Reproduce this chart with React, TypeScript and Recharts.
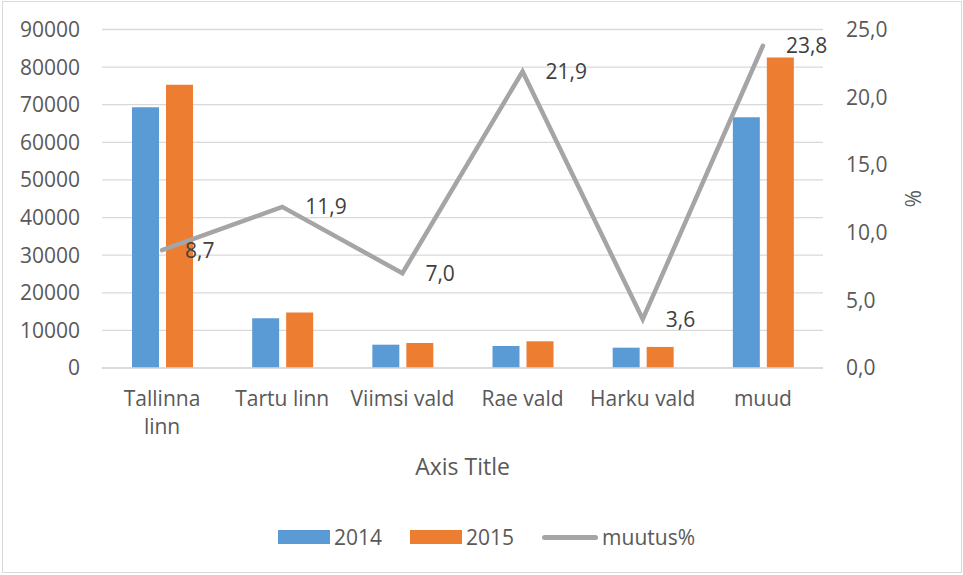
import React from "react";
import {
  ComposedChart,
  Bar,
  Line,
  XAxis,
  YAxis,
  CartesianGrid,
  Legend,
  LabelList,
} from "recharts";

const categories = ["Tallinna linn", "Tartu linn", "Viimsi vald", "Rae vald", "Harku vald", "muud"];
const values2014 = [69350, 13200, 6200, 5850, 5400, 66700];
const values2015 = [75300, 14750, 6650, 7100, 5600, 82550];
const muutus = [8.7, 11.9, 7.0, 21.9, 3.6, 23.8];
const leftTicks = [0, 10000, 20000, 30000, 40000, 50000, 60000, 70000, 80000, 90000];
const rightTicks = [0, 5, 10, 15, 20, 25];

const FONT = "'Open Sans', sans-serif";
const TEXT = "#595959";
const BLUE = "#5B9BD5";
const ORANGE = "#ED7D31";
const GREY = "#A5A5A5";

const data = categories.map((name, i) => ({
  name,
  y2014: values2014[i],
  y2015: values2015[i],
  muutus: muutus[i],
}));

const comma = (v: number) => v.toFixed(1).replace(".", ",");

// long labels wrap onto two lines like in Excel
function wrapLabel(s: string): string[] {
  if (s.length <= 12) return [s];
  const i = s.lastIndexOf(" ");
  return i > 0 ? [s.slice(0, i), s.slice(i + 1)] : [s];
}

function CategoryTick(props: any) {
  const { x, y, payload } = props;
  const lines = wrapLabel(String(payload.value));
  return (
    <text x={x} y={y + 38} textAnchor="middle" fill={TEXT} fontSize={21} fontFamily={FONT}>
      {lines.map((l, i) => (
        <tspan key={i} x={x} dy={i === 0 ? 0 : 28}>
          {l}
        </tspan>
      ))}
    </text>
  );
}

function PercentLabel(props: any) {
  const vb = props.viewBox || {};
  const cx = vb.x + 90;
  const cy = vb.y + vb.height / 2;
  return (
    <text
      x={cx}
      y={cy}
      transform={`rotate(90, ${cx}, ${cy})`}
      textAnchor="middle"
      dominantBaseline="central"
      fill={TEXT}
      fontSize={21}
      fontFamily={FONT}
    >
      %
    </text>
  );
}

function ChartLegend() {
  const item = { display: "flex", alignItems: "center", marginRight: 28 } as const;
  const label = { fontSize: 21, color: TEXT, fontFamily: FONT, marginLeft: 4, lineHeight: "30px" };
  return (
    <div style={{ display: "flex", justifyContent: "center", height: 30, paddingLeft: 10 }}>
      <div style={item}>
        <span style={{ width: 52, height: 14, background: BLUE, display: "inline-block" }} />
        <span style={label}>2014</span>
      </div>
      <div style={item}>
        <span style={{ width: 52, height: 14, background: ORANGE, display: "inline-block" }} />
        <span style={label}>2015</span>
      </div>
      <div style={{ ...item, marginRight: 0 }}>
        <span style={{ width: 56, height: 5, borderRadius: 3, background: GREY, display: "inline-block" }} />
        <span style={label}>muutus%</span>
      </div>
    </div>
  );
}

export default function App() {
  return (
    <div style={{ position: "absolute", left: 0, top: 0, width: 963, height: 575, background: "#fff" }}>
      <div
        style={{
          position: "absolute",
          left: 2,
          top: 1,
          width: 958,
          height: 570,
          border: "1.5px solid #d9d9d9",
        }}
      />
      <ComposedChart
        width={963}
        height={575}
        data={data}
        margin={{ top: 29.5, right: 0, bottom: 57, left: 0 }}
        barGap={7}
      >
        <CartesianGrid yAxisId="left" vertical={false} stroke="#d9d9d9" strokeWidth={1.3} />
        <XAxis
          dataKey="name"
          interval={0}
          tickLine={false}
          tickSize={0}
          tickMargin={0}
          axisLine={{ stroke: "#d9d9d9", strokeWidth: 1.3 }}
          height={120}
          tick={<CategoryTick />}
          label={{
            value: "Axis Title",
            position: "insideBottom",
            offset: 13,
            fill: TEXT,
            fontSize: 23,
            fontFamily: FONT,
          }}
        />
        <YAxis
          yAxisId="left"
          width={102}
          domain={[0, 90000]}
          ticks={leftTicks}
          axisLine={false}
          tickLine={false}
          tickSize={0}
          tickMargin={22}
          tick={{ fill: TEXT, fontSize: 21, fontFamily: FONT }}
        />
        <YAxis
          yAxisId="right"
          orientation="right"
          width={140}
          domain={[0, 25]}
          ticks={rightTicks}
          tickFormatter={comma}
          axisLine={false}
          tickLine={false}
          tickSize={0}
          tickMargin={23}
          tick={{ fill: TEXT, fontSize: 21, fontFamily: FONT }}
          label={<PercentLabel />}
        />
        <Legend
          content={<ChartLegend />}
          wrapperStyle={{ top: 522, left: 0, width: 963, height: 30 }}
        />
        <Bar yAxisId="left" dataKey="y2014" name="2014" fill={BLUE} barSize={27} isAnimationActive={false} />
        <Bar yAxisId="left" dataKey="y2015" name="2015" fill={ORANGE} barSize={27} isAnimationActive={false} />
        <Line
          yAxisId="right"
          type="linear"
          dataKey="muutus"
          name="muutus%"
          stroke={GREY}
          strokeWidth={4.5}
          strokeLinecap="round"
          dot={false}
          activeDot={false}
          isAnimationActive={false}
        >
          <LabelList
            dataKey="muutus"
            position="right"
            offset={23}
            formatter={(v: any) => comma(Number(v))}
            fill="#404040"
            fontSize={21}
            fontFamily={FONT}
          />
        </Line>
      </ComposedChart>
    </div>
  );
}
